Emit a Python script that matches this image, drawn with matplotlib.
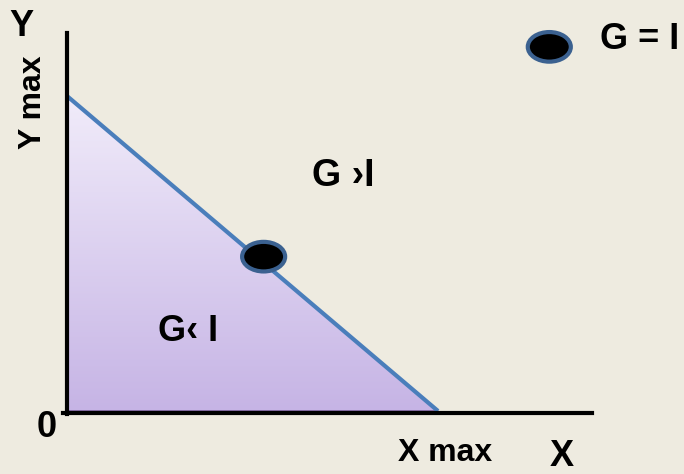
import matplotlib
matplotlib.use("Agg")
import matplotlib.pyplot as plt
from matplotlib.patches import Ellipse, Polygon
import numpy as np

# conceptual diagram, axes in units of X max / Y max
x_max = 1.0
y_max = 1.0
triangle_x = [0.0, 0.0, x_max]
triangle_y = [0.0, y_max, 0.0]
balance_point = (0.53, 0.49)
legend_point = (1.30, 1.156)

region_labels = ["G \u203aI", "G\u2039 I"]
legend_label = "G = I"
axis_labels = ["Y", "Y max", "0", "X max", "X"]

bg = "#EEEBE0"
fill_top = np.array([241, 236, 250]) / 255
fill_bottom = np.array([198, 180, 229]) / 255

fig = plt.figure(figsize=(6.84, 4.74), dpi=100, facecolor=bg)
ax = fig.add_axes([0, 0, 1, 1])
ax.set_facecolor(bg)
ax.set_xlim(-67 / 371, 617 / 371)
ax.set_ylim(-63 / 315, 411 / 315)
ax.axis("off")

# triangle with vertical gradient
tri = Polygon(list(zip(triangle_x, triangle_y)), closed=True, facecolor="none",
              edgecolor="#8064A2", lw=1.2, zorder=2)
ax.add_patch(tri)
t = np.linspace(0, 1, 256)[:, None, None]
grad = fill_bottom * (1 - t) + fill_top * t
im = ax.imshow(grad, extent=[0, x_max, 0, y_max], origin="lower", aspect="auto", zorder=1)
im.set_clip_path(tri)

# budget line
ax.plot([0, x_max], [y_max, 0], color="#4A7EBB", lw=3, solid_capstyle="butt", zorder=3)

# axes
fs = "Liberation Sans"
ax.plot([0, 0], [-0.01, 1.2], color="black", lw=3, zorder=4)
ax.plot([-0.01, 1.415], [-0.005, -0.005], color="black", lw=3, zorder=4)

# points
for (px, py) in [balance_point, legend_point]:
    ax.add_patch(Ellipse((px, py), 0.116, 0.094, facecolor="black",
                         edgecolor="#3B6190", lw=3, zorder=5))

ax.text(0.744, 0.746, region_labels[0], fontsize=27, fontweight="bold", family=fs,
        ha="center", va="center")
ax.text(0.326, 0.251, region_labels[1], fontsize=26, fontweight="bold", family=fs,
        ha="center", va="center")
ax.text(1.544, 1.178, legend_label, fontsize=26, fontweight="bold", family=fs,
        ha="center", va="center")

ax.text(-0.124, 1.222, axis_labels[0], fontsize=26, fontweight="bold", family=fs,
        ha="center", va="center")
ax.text(-0.092, 0.981, axis_labels[1], fontsize=23, fontweight="bold", family=fs,
        ha="center", va="center", rotation=90)
ax.text(-0.054, -0.051, axis_labels[2], fontsize=26, fontweight="bold", family=fs,
        ha="center", va="center")
ax.text(1.019, -0.133, axis_labels[3], fontsize=23, fontweight="bold", family=fs,
        ha="center", va="center")
ax.text(1.334, -0.146, axis_labels[4], fontsize=26, fontweight="bold", family=fs,
        ha="center", va="center")

fig.savefig("out.png", dpi=100, facecolor=bg)
